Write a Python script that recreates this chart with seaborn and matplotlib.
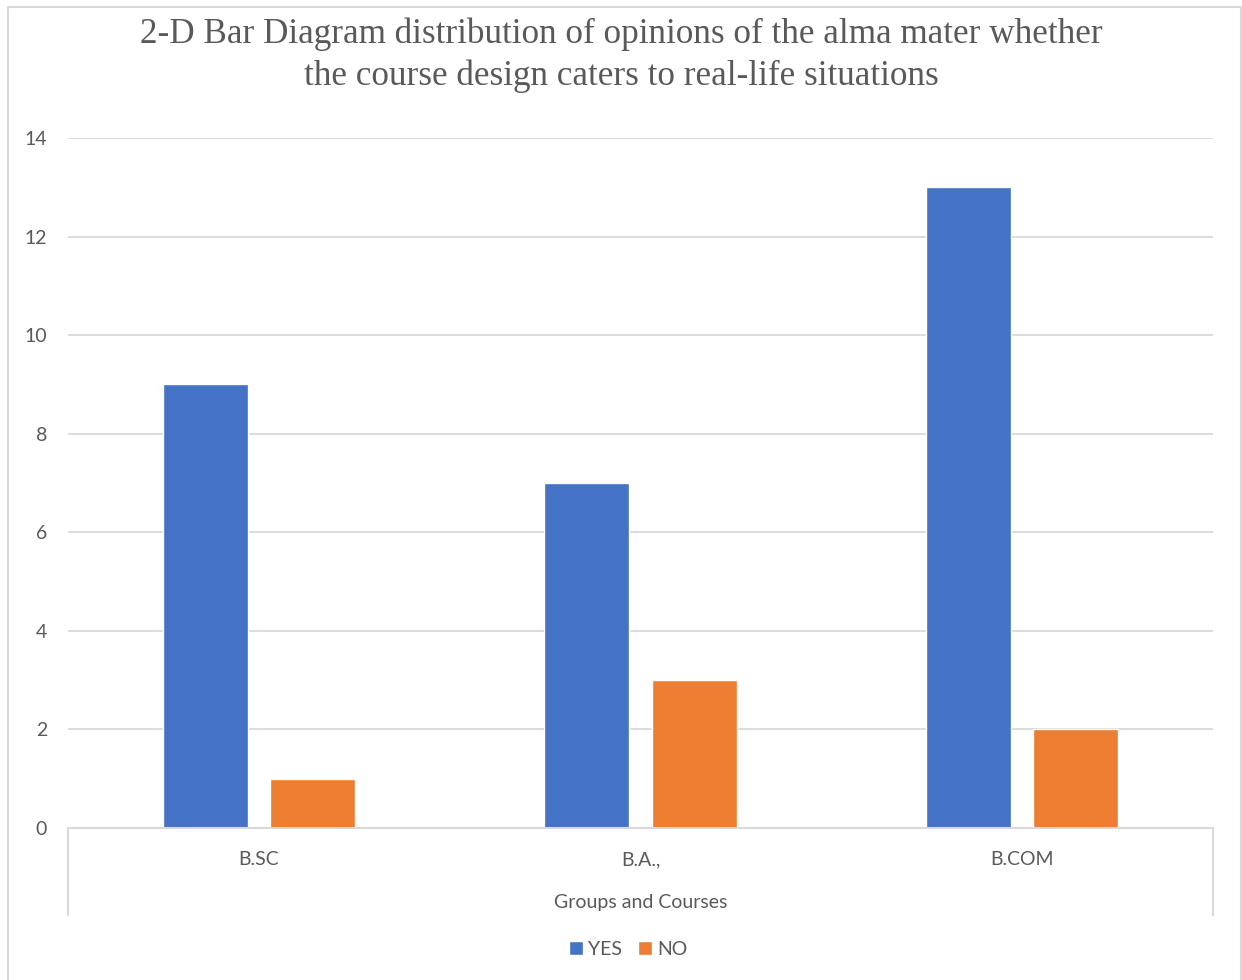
import matplotlib
matplotlib.use("Agg")
import matplotlib.pyplot as plt
from matplotlib.lines import Line2D
import seaborn as sns
import pandas as pd

categories = ["B.SC", "B.A.,", "B.COM"]
yes_values = [9, 7, 13]
no_values = [1, 3, 2]
series_names = ["YES", "NO"]
y_ticks = [0, 2, 4, 6, 8, 10, 12, 14]
title = ("2-D Bar Diagram distribution of opinions of the alma mater whether\n"
         "the course design caters to real-life situations")
x_label = "Groups and Courses"

df = pd.DataFrame({
    "Course": categories * 2,
    "Opinion": [series_names[0]] * 3 + [series_names[1]] * 3,
    "Count": yes_values + no_values,
})

sns.set_theme(style="white")
plt.rcParams["font.family"] = ["Lato", "DejaVu Sans"]

W, H = 1242, 980
fig = plt.figure(figsize=(W / 100, H / 100), dpi=100)
x0, x1, ytop, ybot = 68, 1213, 138, 828
ax = fig.add_axes([x0 / W, 1 - ybot / H, (x1 - x0) / W, (ybot - ytop) / H])

sns.barplot(data=df, x="Course", y="Count", hue="Opinion", order=categories,
            hue_order=series_names, palette=["#4472C4", "#ED7D31"],
            width=0.564, gap=0.21, ax=ax, legend=True, saturation=1)

ax.set_xlim(-0.5, 2.5)
ax.set_ylim(0, 14)
ax.set_yticks(y_ticks)
ax.yaxis.grid(True, color="#d9d9d9", linewidth=1.3)
ax.set_axisbelow(True)
for s in ["top", "right", "left"]:
    ax.spines[s].set_visible(False)
ax.spines["bottom"].set_color("#d9d9d9")
ax.spines["bottom"].set_linewidth(1.5)
ax.tick_params(axis="y", length=0, pad=15, labelsize=14, labelcolor="#595959")
ax.tick_params(axis="x", length=0, pad=16.5, labelsize=14, labelcolor="#595959")
ax.set_ylabel("")
ax.set_xlabel(x_label, fontsize=14, color="#595959", labelpad=19)

# category-axis frame lines extending below
for xf in (0, 1):
    ax.add_line(Line2D([xf, xf], [0, -(915 - ybot) / (ybot - ytop)],
                       transform=ax.transAxes, color="#d9d9d9", lw=1.5, clip_on=False))

handles, labels = ax.get_legend_handles_labels()
ax.get_legend().remove()
fig.legend(handles, labels, loc="center", bbox_to_anchor=(628 / W, 1 - 949 / H),
           ncol=2, frameon=False, fontsize=14, handlelength=0.72, handleheight=0.72,
           handletextpad=0.25, columnspacing=0.85, labelcolor="#595959")

fig.text(0.5, 1 - 55 / H, title, ha="center", va="center", fontsize=25.3,
         family=["Liberation Serif", "DejaVu Serif"], color="#595959",
         linespacing=1.32)

# outer chart border
bl, bt, br = 8, 7, 1241
fig.add_artist(Line2D([bl / W, bl / W, br / W, br / W], [0, 1 - bt / H, 1 - bt / H, 0],
                      transform=fig.transFigure, color="#d9d9d9", lw=1.5))

fig.savefig("out.png", dpi=100)
